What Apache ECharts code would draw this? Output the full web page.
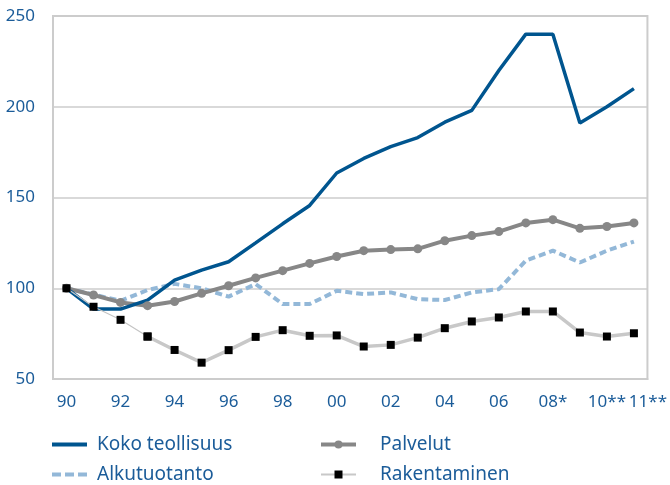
<!DOCTYPE html>
<html>
<head>
<meta charset="utf-8">
<script src="https://cdn.jsdelivr.net/npm/echarts@6/dist/echarts.min.js"></script>
<style>
  html, body { margin: 0; padding: 0; background: #fff; }
  #chart { width: 670px; height: 485px; }
</style>
</head>
<body>
<div id="chart"></div>
<script>
  // vuodet 1990-2011
  const years = ['90', '91', '92', '93', '94', '95', '96', '97', '98', '99', '00',
    '01', '02', '03', '04', '05', '06', '07', '08*', '09', '10**', '11**']
  // vuodet joille näytetään otsikko
  const shownLabels = ['90', '92', '94', '96', '98', '00', '02', '04', '06', '08*', '10**', '11**']
  const yTicks = [50, 100, 150, 200, 250]

  const koko = [100, 88.5, 88.5, 93.5, 104.5, 110, 114.6, 125, 135.5, 145.6, 163.5,
    171.5, 178, 183, 191.5, 198, 220, 240, 240, 191, 200, 210]
  const palvelut = [100, 96.3, 92.2, 90.4, 92.7, 97.2, 101.4, 105.7, 109.7, 113.7, 117.5,
    120.7, 121.3, 121.7, 126.2, 129, 131.2, 136, 137.8, 133, 134, 136]
  const alkutuotanto = [100, 96.5, 93.1, 99, 102.4, 100, 95.4, 102.3, 91.3, 91.3, 98.6,
    96.8, 97.7, 94, 93.5, 97.7, 99.5, 115.2, 120.7, 114.2, 120.7, 125.7]
  const rakentaminen = [100, 89.8, 82.6, 73.4, 66, 59, 65.9, 73.2, 76.9, 73.8, 74,
    67.9, 68.8, 72.8, 78, 81.7, 83.9, 87.2, 87.2, 75.6, 73.4, 75.2]

  const textColor = '#1b5c99'
  const font = 'Noto Sans'

  // rakentaminen: alku ohuena viivana, loput paksuna
  const thinEnd = 3
  const rakThin = rakentaminen.map((v, i) => (i <= thinEnd ? v : '-'))
  const rakThick = rakentaminen.map((v, i) => (i >= thinEnd ? v : '-'))

  // selitteen kuvakkeet
  const solidIcon = 'path://M0,0 L35,0 L35,4 L0,4 Z'
  const dashIcon = 'path://M0,0 L9,0 L9,4 L0,4 Z M13,0 L22,0 L22,4 L13,4 Z M26,0 L35,0 L35,4 L26,4 Z'

  const legendBase = {
    orient: 'vertical',
    top: 435,
    height: 80,
    padding: 0,
    itemWidth: 35,
    itemHeight: 10,
    itemGap: 11
  }

  const chart = echarts.init(document.getElementById('chart'))
  const option = {
    backgroundColor: '#fff',
    animation: false,
    grid: {
      left: 53,
      right: 22,
      top: 16,
      bottom: 106,
      show: true,
      borderColor: '#cccccc',
      borderWidth: 2
    },
    legend: [
      Object.assign({}, legendBase, {
        data: [
          { name: 'Koko teollisuus', icon: solidIcon },
          { name: 'Alkutuotanto', icon: dashIcon }
        ],
        left: 52,
        textStyle: { color: textColor, fontFamily: font, fontSize: 19, padding: [0, 0, 0, 5] }
      }),
      Object.assign({}, legendBase, {
        data: [
          { name: 'Palvelut', lineStyle: { width: 4 } },
          { name: 'Rakentaminen', lineStyle: { width: 2 } }
        ],
        left: 319,
        textStyle: { color: textColor, fontFamily: font, fontSize: 19, padding: [0, 0, 0, 19] }
      })
    ],
    xAxis: {
      type: 'category',
      data: years,
      boundaryGap: true,
      axisLine: { lineStyle: { color: '#cccccc', width: 2 } },
      axisTick: { inside: true, length: 7, interval: 0, lineStyle: { color: '#cccccc', width: 1.5 } },
      axisLabel: {
        interval: 0,
        margin: 15,
        color: textColor,
        fontFamily: font,
        fontSize: 17,
        formatter: (val, idx) => {
          if (shownLabels.indexOf(val) < 0) return ''
          if (idx === years.length - 1) return '{last|' + val + '}'
          return val
        },
        rich: {
          last: { color: textColor, fontFamily: font, fontSize: 17, padding: [0, 0, 0, 28] }
        }
      },
      splitLine: { show: false }
    },
    yAxis: {
      type: 'value',
      min: yTicks[0],
      max: yTicks[yTicks.length - 1],
      interval: 50,
      axisLine: { show: true, lineStyle: { color: '#cccccc', width: 2 } },
      axisTick: { show: false },
      axisLabel: { margin: 18, color: textColor, fontFamily: font, fontSize: 17 },
      splitLine: { lineStyle: { color: '#cccccc', width: 1.5 } }
    },
    series: [
      {
        name: 'Alkutuotanto',
        type: 'line',
        data: alkutuotanto,
        symbol: 'none',
        color: '#93b8d8',
        itemStyle: { color: '#93b8d8' },
        lineStyle: { color: '#93b8d8', width: 4, type: [7, 4] }
      },
      {
        name: 'Palvelut',
        type: 'line',
        data: palvelut,
        symbol: 'circle',
        symbolSize: 9,
        color: '#878787',
        itemStyle: { color: '#878787' },
        lineStyle: { color: '#878787', width: 4 }
      },
      {
        name: 'Koko teollisuus',
        type: 'line',
        data: koko,
        symbol: 'none',
        color: '#00558f',
        itemStyle: { color: '#00558f' },
        lineStyle: { color: '#00558f', width: 3.5 }
      },
      {
        name: 'Rakentaminen (alku)',
        type: 'line',
        data: rakThin,
        symbol: 'rect',
        symbolSize: 8,
        itemStyle: { color: '#000' },
        lineStyle: { color: '#c4c4c4', width: 1.2 }
      },
      {
        name: 'Rakentaminen',
        type: 'line',
        data: rakThick,
        symbol: 'rect',
        symbolSize: 8,
        color: '#000',
        itemStyle: { color: '#000' },
        lineStyle: { color: '#c8c8c8', width: 3.5 }
      }
    ]
  }
  chart.setOption(option)
</script>
</body>
</html>
